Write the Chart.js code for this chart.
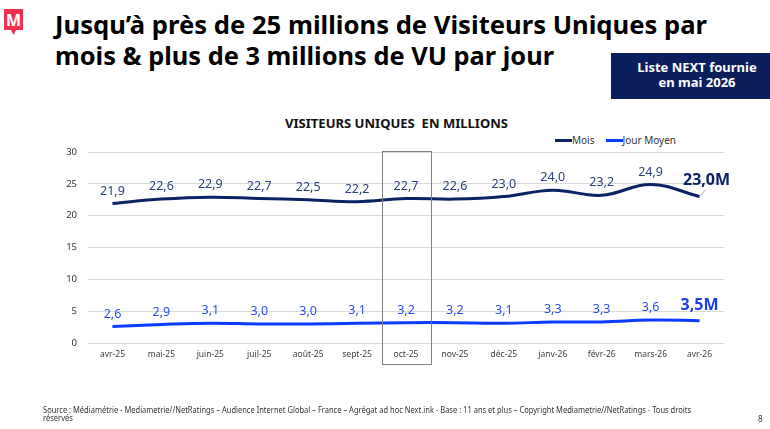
<!DOCTYPE html>
<html><head><meta charset="utf-8">
<script src="https://cdn.jsdelivr.net/npm/chart.js@4.4.1/dist/chart.umd.min.js"></script>
<style>
html,body{margin:0;padding:0;width:770px;height:429px;overflow:hidden;background:#fff;font-family:'Noto Sans',sans-serif;}
#wrap{position:relative;width:770px;height:429px;}
#c{position:absolute;left:0;top:0;}
.abs{position:absolute;white-space:nowrap;}
.fit{transform-origin:0 0;}
.title{left:55px;font-weight:700;font-size:25px;color:#000;line-height:30px;}
#t1{top:9px;}
#t2{top:40px;}
#box{left:611px;top:53px;height:46px;padding-left:13px;background:#0c1f5d;color:#fff;font-weight:700;font-size:13px;line-height:15px;text-align:center;padding-top:7px;box-sizing:border-box;width:159px;}
#ctitle{top:116px;left:285px;font-weight:700;font-size:12.5px;color:#111;line-height:16px;}
#legend{top:133px;left:555px;font-size:10px;color:#333;line-height:14px;display:flex;}
#legend .it{display:flex;align-items:center;margin-right:11px;}
#legend .sw{width:17px;height:3px;display:inline-block;}
#foot{left:43px;top:406px;font-size:8px;line-height:8px;color:#333;}
#pg{left:758px;top:413px;font-size:8px;color:#333;}
</style>
</head><body>
<div id="wrap">
<svg class="abs" style="left:4px;top:9px" width="20" height="28" viewBox="0 0 20 28">
  <path d="M0 0 H19 V21 H12 L9.5 26 L7 21 H0 Z" fill="#f0304f"/>
  <text x="9.5" y="17" text-anchor="middle" font-family="Noto Sans" font-weight="700" font-size="16" fill="#fff">M</text>
</svg>
<div id="t1" class="abs title fit" data-w="652">Jusqu’à près de 25 millions de Visiteurs Uniques par</div>
<div id="t2" class="abs title fit" data-w="499">mois &amp; plus de 3 millions de VU par jour</div>
<div id="box" class="abs">Liste NEXT fournie<br>en mai 2026</div>
<div id="ctitle" class="abs fit" data-w="223">VISITEURS UNIQUES&nbsp; EN MILLIONS</div>
<div id="legend" class="abs"></div>
<canvas id="c" width="770" height="429"></canvas>
<div id="foot" class="abs fit" data-w="648">Source : Médiamétrie - Mediametrie//NetRatings – Audience Internet Global – France – Agrégat ad hoc Next.ink - Base : 11 ans et plus – Copyright Mediametrie//NetRatings - Tous droits<br>réservés</div>
<div id="pg" class="abs">8</div>
</div>
<script>
const categories = ['avr-25','mai-25','juin-25','juil-25','août-25','sept-25','oct-25','nov-25','déc-25','janv-26','févr-26','mars-26','avr-26'];
const mois = [21.9,22.6,22.9,22.7,22.5,22.2,22.7,22.6,23.0,24.0,23.2,24.9,23.0];
const jourMoyen = [2.6,2.9,3.1,3.0,3.0,3.1,3.2,3.2,3.1,3.3,3.3,3.6,3.5];
const seriesNames = ['Mois','Jour Moyen'];
const yTicks = [0,5,10,15,20,25,30];
const highlightIndex = 6;

// fit text widths
document.querySelectorAll('.fit').forEach(el=>{
  const w = el.getBoundingClientRect().width;
  const target = +el.dataset.w;
  if (w>0) el.style.transform = 'scaleX(' + (target/w) + ')';
});

const fmt = v => v.toFixed(1).replace('.', ',');
const labelColors = ['#2a427e','#2a4cf2'];
const lastOffsets = [[7,-16.5],[0,-15.5]];

const valuePlugin = {
  id:'vals',
  afterDatasetsDraw(chart){
    const ctx = chart.ctx;
    chart.data.datasets.forEach((ds,i)=>{
      const meta = chart.getDatasetMeta(i);
      meta.data.forEach((pt,j)=>{
        const v = ds.data[j];
        ctx.save();
        ctx.textAlign='center'; ctx.textBaseline='middle';
        if (j === ds.data.length-1){
          const [dx,dy] = lastOffsets[i];
          if (i===0){
            ctx.strokeStyle='#a6a6a6'; ctx.lineWidth=1;
            ctx.beginPath(); ctx.moveTo(pt.x+1, pt.y-1); ctx.lineTo(pt.x+6, pt.y-7); ctx.stroke();
          }
          ctx.font='700 16px "Noto Sans"';
          ctx.fillStyle = i===0 ? '#0b2265' : '#1a3cf5';
          ctx.fillText(fmt(v)+'M', pt.x+dx, pt.y+dy);
        } else {
          ctx.font='400 12.5px "Noto Sans"';
          ctx.fillStyle = labelColors[i];
          ctx.fillText(fmt(v), pt.x, pt.y-12.5);
        }
        ctx.restore();
      });
    });
  }
};

const highlightPlugin = {
  id:'hl',
  afterDraw(chart){
    const x = chart.scales.x, ca = chart.chartArea;
    const c = x.getPixelForValue(highlightIndex);
    const half = (ca.right-ca.left)/categories.length/2;
    const ctx = chart.ctx;
    ctx.save();
    ctx.strokeStyle='#7f7f7f'; ctx.lineWidth=1;
    ctx.strokeRect(Math.round(c-half)+0.5, Math.round(ca.top)-0.5, Math.round(2*half), 213);
    ctx.restore();
  }
};

const chart = new Chart(document.getElementById('c'), {
  type:'line',
  data:{
    labels:categories,
    datasets:[
      {label:seriesNames[0], data:mois, borderColor:'#0b2265', backgroundColor:'#0b2265', borderWidth:3, pointRadius:0, tension:0.4, fill:false},
      {label:seriesNames[1], data:jourMoyen, borderColor:'#0a3cff', backgroundColor:'#0a3cff', borderWidth:3, pointRadius:0, tension:0.4, fill:false}
    ]
  },
  options:{
    responsive:false, animation:false, devicePixelRatio:1,
    layout:{padding:{left:48,right:46,top:152,bottom:64}},
    plugins:{legend:{display:false}, title:{display:false}, tooltip:{enabled:false}},
    scales:{
      x:{
        offset:true,
        grid:{display:false, drawTicks:false}, border:{display:false},
        ticks:{color:'#404040', font:{family:'Noto Sans', size:8.5}, padding:6, maxRotation:0, autoSkip:false},
        afterFit(s){ s.height = 22; }
      },
      y:{
        min:0, max:30,
        afterBuildTicks(s){ s.ticks = yTicks.map(v=>({value:v})); },
        grid:{color:'#d9d9d9', drawTicks:false, lineWidth:1}, border:{display:false},
        ticks:{color:'#333', font:{family:'Noto Sans', size:9.5}, padding:11},
        afterFit(s){ s.width = 40; }
      }
    }
  },
  plugins:[valuePlugin, highlightPlugin]
});

// HTML legend built from datasets
const lg = document.getElementById('legend');
chart.data.datasets.forEach(ds=>{
  const it = document.createElement('span'); it.className='it';
  const sw = document.createElement('span'); sw.className='sw'; sw.style.background = ds.borderColor;
  const tx = document.createElement('span'); tx.textContent = ds.label;
  it.appendChild(sw); it.appendChild(tx); lg.appendChild(it);
});
</script>
</body></html>
